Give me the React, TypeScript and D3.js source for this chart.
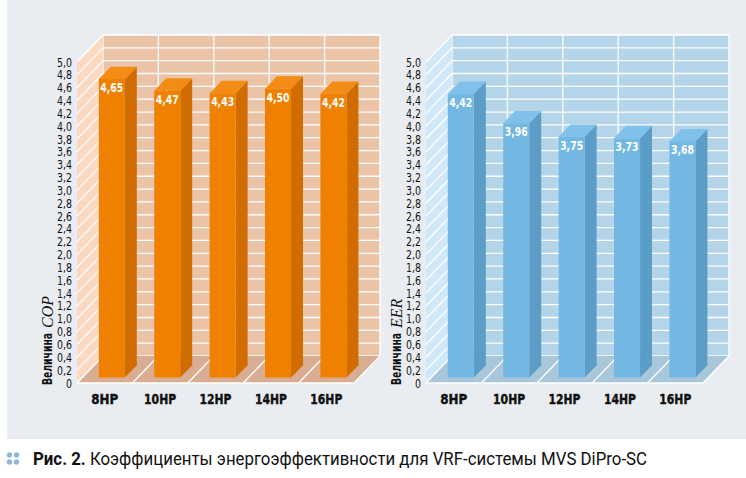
import React, { useEffect } from 'react';
import * as d3 from 'd3';

const categories = ['8HP', '10HP', '12HP', '14HP', '16HP'];
const copValues = [4.65, 4.47, 4.43, 4.5, 4.42];
const eerValues = [4.42, 3.96, 3.75, 3.73, 3.68];
const yTicks = [0, 0.2, 0.4, 0.6, 0.8, 1.0, 1.2, 1.4, 1.6, 1.8, 2.0, 2.2, 2.4, 2.6, 2.8, 3.0, 3.2, 3.4, 3.6, 3.8, 4.0, 4.2, 4.4, 4.6, 4.8, 5.0];
const captionBold = 'Рис. 2.';
const captionText = ' Коэффициенты энергоэффективности для VRF-системы MVS DiPro-SC';

const W = 746;
const H = 478;
const DX = 26;
const DY = -27;
const COND = "'DejaVu Sans Condensed', 'DejaVu Sans', sans-serif";

type Palette = { back: string; side: string; floor: string; front: string; sideBar: string; top: string };

const orange: Palette = { back: '#ebc3a7', side: '#fbd8c0', floor: '#d9ad92', front: '#f08000', sideBar: '#d06c00', top: '#f28c14' };
const blue: Palette = { back: '#b4d4e9', side: '#d0e8f7', floor: '#a8c7db', front: '#72b8e2', sideBar: '#5b9dc7', top: '#7fc1ea' };

const fmtTick = (v: number) => (v === 0 ? '0' : d3.format('.1f')(v).replace('.', ','));
const fmtVal = (v: number) => d3.format('.2f')(v).replace('.', ',');

function Panel({ ox, values, metric, pal }: { ox: number; values: number[]; metric: string; pal: Palette }) {
  const x = d3.scaleBand<string>().domain(categories).range([77 + ox, 354 + ox]).paddingInner(0).paddingOuter(0);
  const y = d3.scaleLinear().domain([0, 5]).range([383, 62]);
  const bw = x.bandwidth();
  const P = (px: number, v: number, d: number) => [px + d * DX, y(v) + d * DY];
  const pts = (arr: number[][]) => arr.map((p) => p.join(',')).join(' ');
  const x0 = x.range()[0];
  const x1 = x.range()[1];
  const bounds = categories.map((c) => x(c) as number).concat([x1]);
  const d0 = 0.2;
  const d1 = 0.66;
  return (
    <g>
      <polygon points={pts([P(x0, 5, 1), P(x1, 5, 1), P(x1, 0, 1), P(x0, 0, 1)])} fill={pal.back} />
      {yTicks.map((t) => (
        <line key={'bh' + t} x1={P(x0, t, 1)[0]} y1={P(x0, t, 1)[1]} x2={P(x1, t, 1)[0]} y2={P(x1, t, 1)[1]} stroke="#fff" strokeWidth={1.3} />
      ))}
      {bounds.map((b, i) => (
        <line key={'bv' + i} x1={P(b, 5, 1)[0]} y1={P(b, 5, 1)[1]} x2={P(b, 0, 1)[0]} y2={P(b, 0, 1)[1]} stroke="#fff" strokeWidth={1.3} />
      ))}
      <polygon points={pts([P(x0, 5, 0), P(x0, 5, 1), P(x0, 0, 1), P(x0, 0, 0)])} fill={pal.side} />
      {yTicks.map((t) => (
        <line key={'sh' + t} x1={P(x0, t, 0)[0]} y1={P(x0, t, 0)[1]} x2={P(x0, t, 1)[0]} y2={P(x0, t, 1)[1]} stroke="#fff" strokeWidth={1.3} />
      ))}
      <polygon points={pts([P(x0, 0, 0), P(x0, 0, 1), P(x1, 0, 1), P(x1, 0, 0)])} fill={pal.floor} />
      {bounds.map((b, i) => (
        <line key={'fl' + i} x1={P(b, 0, 0)[0]} y1={P(b, 0, 0)[1]} x2={P(b, 0, 1)[0]} y2={P(b, 0, 1)[1]} stroke="#fff" strokeWidth={1.3} />
      ))}
      <line x1={P(x0, 0, 0)[0]} y1={P(x0, 0, 0)[1]} x2={P(x1, 0, 0)[0]} y2={P(x1, 0, 0)[1]} stroke="#fff" strokeWidth={1.5} />
      {categories.map((c, i) => {
        const v = values[i];
        const l = (x(c) as number) + 0.3 * bw;
        const r = l + 0.47 * bw;
        const ft = P(l, v, d0);
        return (
          <g key={c}>
            <polygon points={pts([P(r, v, d0), P(r, v, d1), P(r, 0, d1), P(r, 0, d0)])} fill={pal.sideBar} />
            <polygon points={pts([P(l, v, d0), P(r, v, d0), P(r, v, d1), P(l, v, d1)])} fill={pal.top} />
            <polygon points={pts([P(l, v, d0), P(r, v, d0), P(r, 0, d0), P(l, 0, d0)])} fill={pal.front} />
            <text x={(P(l, v, d0)[0] + P(r, v, d0)[0]) / 2} y={ft[1] + 13} textAnchor="middle" fill="#fff" fontFamily={COND} fontWeight="bold" fontSize={12} textLength={23} lengthAdjust="spacingAndGlyphs">
              {fmtVal(v)}
            </text>
            <text x={(x(c) as number) + bw / 2} y={404} textAnchor="middle" fill="#111" fontFamily={COND} fontWeight="900" fontSize={13.5} textLength={c.length === 3 ? 27 : 32} lengthAdjust="spacingAndGlyphs" stroke="#111" strokeWidth={0.4}>
              {c}
            </text>
          </g>
        );
      })}
      {yTicks.map((t) => (
        <text key={'yl' + t} x={72 + ox} y={y(t) + 4.5} textAnchor="end" fill="#111" fontFamily={COND} fontSize={12} textLength={t === 0 ? 6 : 15} lengthAdjust="spacingAndGlyphs">
          {fmtTick(t)}
        </text>
      ))}
      <text transform={`translate(${52 + ox},385) rotate(-90)`} fill="#111" fontFamily={COND} fontWeight="bold" fontSize={14} textLength={52} lengthAdjust="spacingAndGlyphs">
        Величина
      </text>
      <text transform={`translate(${53 + ox},328) rotate(-90)`} fill="#111" fontFamily="'Liberation Serif', serif" fontStyle="italic" fontSize={16}>
        {metric}
      </text>
    </g>
  );
}

export default function App() {
  useEffect(() => {
    document.body.style.margin = '0';
  }, []);
  return (
    <div style={{ position: 'absolute', left: 0, top: 0 }}>
      <svg width={W} height={H} viewBox={`0 0 ${W} ${H}`} style={{ display: 'block', background: '#fff' }}>
        <rect x={7} y={0} width={W - 7} height={439} fill="#e9edf1" />
        <Panel ox={0} values={copValues} metric="COP" pal={orange} />
        <Panel ox={349} values={eerValues} metric="EER" pal={blue} />
        {[[9.5, 455], [16.5, 455], [9.5, 462], [16.5, 462]].map((p, i) => (
          <circle key={i} cx={p[0]} cy={p[1]} r={2.7} fill="#8db7df" />
        ))}
        <text x={33} y={465} fill="#111" fontFamily="Roboto, 'Noto Sans', sans-serif" fontSize={17.5} textLength={614} lengthAdjust="spacingAndGlyphs">
          <tspan fontWeight="bold">{captionBold}</tspan>
          <tspan>{captionText}</tspan>
        </text>
      </svg>
    </div>
  );
}
